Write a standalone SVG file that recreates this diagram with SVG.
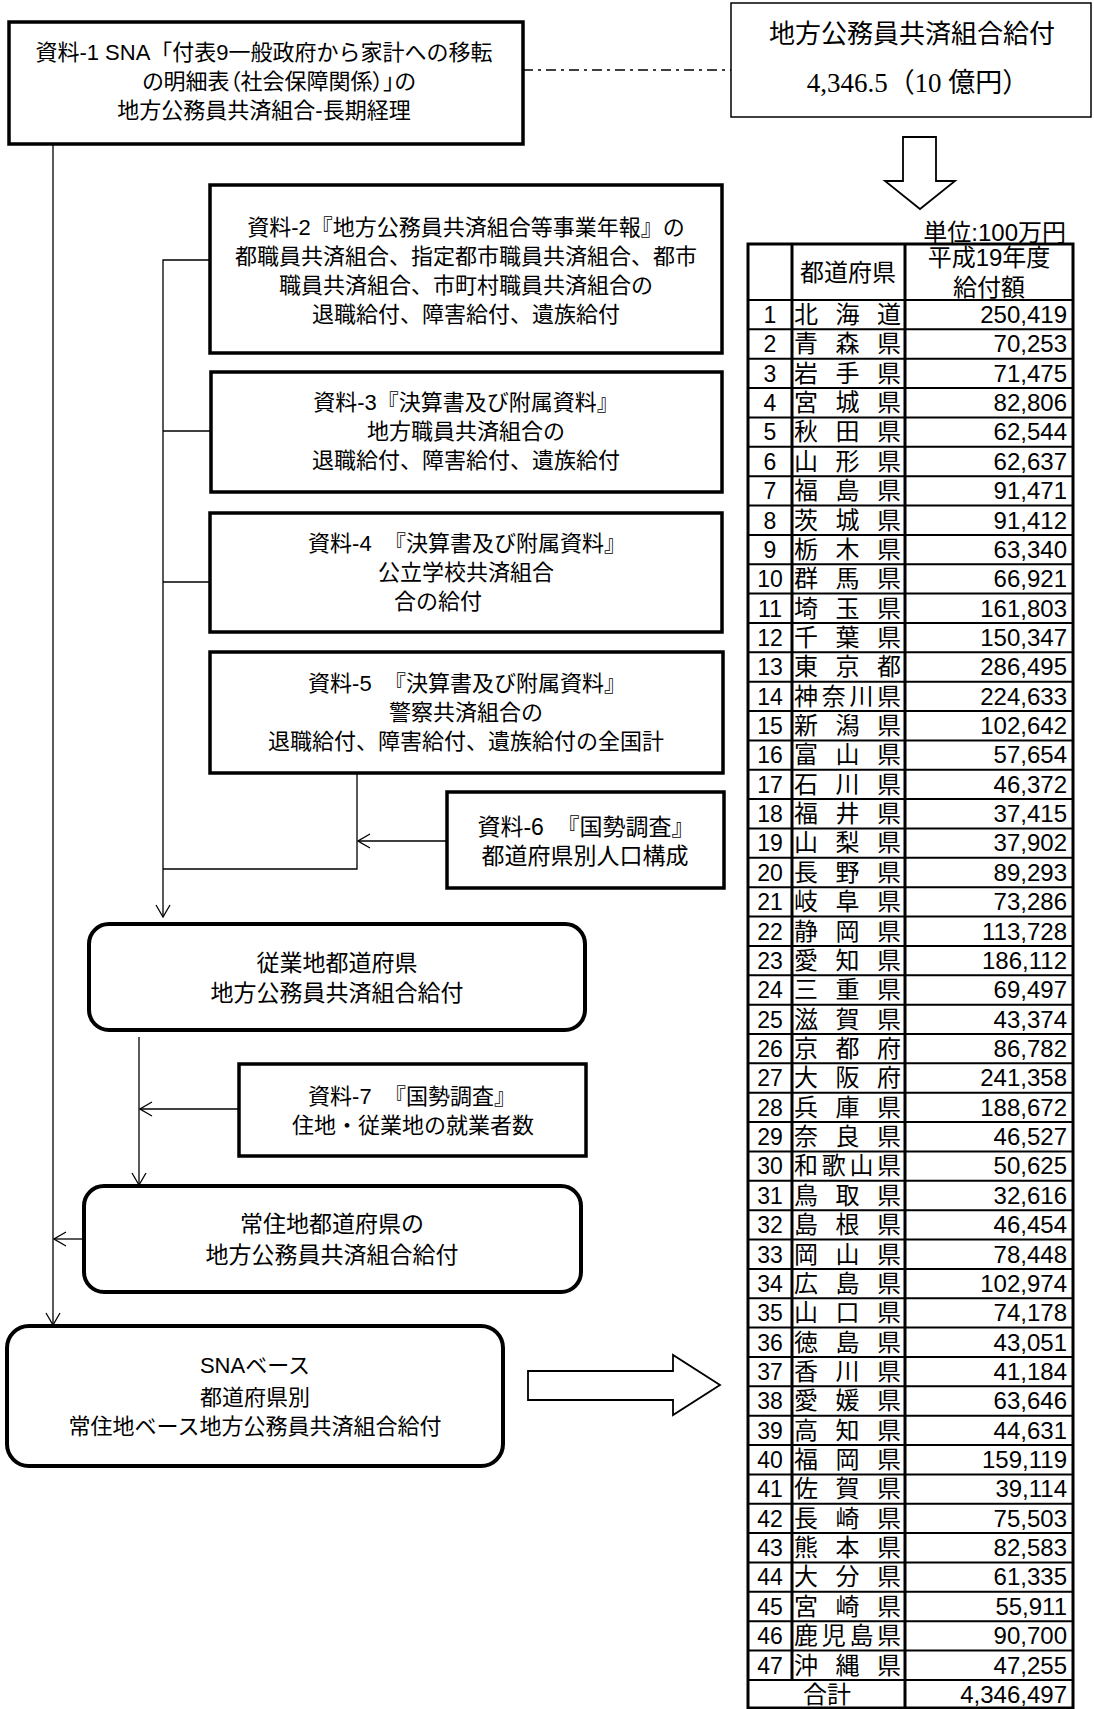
<svg xmlns="http://www.w3.org/2000/svg" width="1094" height="1709" viewBox="0 0 1094 1709">
<style>
.box{fill:#fff;stroke:#000;stroke-width:3.5}
.rbox{fill:#fff;stroke:#000;stroke-width:4}
.thin{fill:#fff;stroke:#000;stroke-width:1.5}
.c{fill:none;stroke:#000;stroke-width:1.3}
.hol{fill:#fff;stroke:#000;stroke-width:1.8;stroke-linejoin:miter}
.t{font-family:"Liberation Sans","Noto Sans CJK JP",sans-serif;font-size:22px;text-anchor:middle;fill:#000}
.t23{font-size:23px}
.palt{font-feature-settings:"palt"}
.tt{font-family:"Liberation Sans","Noto Sans CJK JP",sans-serif;font-size:26px;text-anchor:middle;fill:#000}
.ts{font-family:"Liberation Serif","Noto Sans CJK JP",serif;font-size:27px;text-anchor:middle;fill:#000}
.tb{fill:none;stroke:#000}
.n{font-family:"Liberation Sans","Noto Sans CJK JP",sans-serif;font-size:23px;text-anchor:middle;fill:#000}
.p{font-family:"Noto Sans CJK JP","Liberation Sans",sans-serif;font-size:24px;text-anchor:start;fill:#000;letter-spacing:17.5px}
.p4{letter-spacing:3.7px}
.v{font-family:"Liberation Sans","Noto Sans CJK JP",sans-serif;font-size:24px;text-anchor:end;fill:#000}
.h{font-family:"Liberation Sans","Noto Sans CJK JP",sans-serif;font-size:24px;text-anchor:middle;fill:#000}
</style>
<defs>
<marker id="ah" markerUnits="userSpaceOnUse" markerWidth="14" markerHeight="18" viewBox="0 0 14 18" refX="13" refY="9" orient="auto">
<path d="M1,2 L13,9 L1,16" fill="none" stroke="#000" stroke-width="1.3"/>
</marker>
</defs>
<rect width="1094" height="1709" fill="#fff"/>

<g id="connectors">
<path class="c" d="M523,70 H731" stroke-dasharray="10 5 3 5"/>
<path class="c" d="M53,145 V1325" marker-end="url(#ah)"/>
<path class="c" d="M232,260 H163 V917" marker-end="url(#ah)"/>
<path class="c" d="M163,431 H211"/>
<path class="c" d="M163,582 H210"/>
<path class="c" d="M357,773 V869 H163"/>
<path class="c" d="M446,841 H358" marker-end="url(#ah)"/>
<path class="c" d="M139,1037 V1185" marker-end="url(#ah)"/>
<path class="c" d="M239,1109 H140" marker-end="url(#ah)"/>
<path class="c" d="M84,1239 H54" marker-end="url(#ah)"/>
<polygon class="hol" points="903,137 936,137 936,181 955,181 920,209 885,181 903,181"/>
<polygon class="hol" points="528,1371 673,1371 673,1355 720,1385 673,1415 673,1400 528,1400"/>
</g>

<g id="n1">
<rect class="box" x="9" y="22" width="514" height="122"/>
<text class="t" x="264" y="60">資料-1 SNA「付表9一般政府から家計への移転</text>
<text class="t palt" x="279" y="89">の明細表（社会保障関係）」の</text>
<text class="t" x="264" y="118">地方公務員共済組合-長期経理</text>
</g>

<g id="n0">
<rect class="thin" x="731" y="3" width="360" height="114"/>
<text class="tt" x="912" y="43">地方公務員共済組合給付</text>
<text class="ts" x="918" y="92">4,346.5（10 億円）</text>
</g>

<g id="n2">
<rect class="box" x="210" y="185" width="512" height="168"/>
<text class="t" x="466" y="235">資料-2『地方公務員共済組合等事業年報』の</text>
<text class="t" x="466" y="264">都職員共済組合、指定都市職員共済組合、都市</text>
<text class="t" x="466" y="293">職員共済組合、市町村職員共済組合の</text>
<text class="t" x="466" y="322">退職給付、障害給付、遺族給付</text>
</g>
<g id="n3">
<rect class="box" x="211" y="372" width="511" height="120"/>
<text class="t" x="466" y="410">資料-3『決算書及び附属資料』</text>
<text class="t" x="466" y="439">地方職員共済組合の</text>
<text class="t" x="466" y="468">退職給付、障害給付、遺族給付</text>
</g>
<g id="n4">
<rect class="box" x="210" y="513" width="512" height="119"/>
<text class="t" x="467" y="551">資料-4&#160; 『決算書及び附属資料』</text>
<text class="t" x="466" y="580">公立学校共済組合</text>
<text class="t" x="438" y="609">合の給付</text>
</g>
<g id="n5">
<rect class="box" x="210" y="652" width="513" height="121"/>
<text class="t" x="467" y="691">資料-5&#160; 『決算書及び附属資料』</text>
<text class="t" x="466" y="720">警察共済組合の</text>
<text class="t" x="466" y="749">退職給付、障害給付、遺族給付の全国計</text>
</g>
<g id="n6">
<rect class="box" x="447" y="792" width="277" height="96"/>
<text class="t t23" x="586" y="835">資料-6&#160; 『国勢調査』</text>
<text class="t t23" x="585" y="864">都道府県別人口構成</text>
</g>
<g id="n7">
<rect class="rbox" x="89" y="924" width="496" height="106" rx="20"/>
<text class="t t23" x="337" y="971">従業地都道府県</text>
<text class="t t23" x="337" y="1001">地方公務員共済組合給付</text>
</g>
<g id="n8">
<rect class="box" x="239" y="1064" width="347" height="92"/>
<text class="t" x="412" y="1104">資料-7&#160; 『国勢調査』</text>
<text class="t" x="413" y="1133">住地・従業地の就業者数</text>
</g>
<g id="n9">
<rect class="rbox" x="84" y="1186" width="497" height="106" rx="20"/>
<text class="t t23" x="332" y="1232">常住地都道府県の</text>
<text class="t t23" x="332" y="1263">地方公務員共済組合給付</text>
</g>
<g id="n10">
<rect class="rbox" x="7" y="1326" width="496" height="140" rx="22"/>
<text class="t" x="255" y="1373">SNAベース</text>
<text class="t" x="255" y="1405">都道府県別</text>
<text class="t" x="255" y="1434">常住地ベース地方公務員共済組合給付</text>
</g>

<g id="table">
<text class="v" x="1066" y="241">単位:100万円</text>
<rect class="tb" x="748" y="244" width="325" height="1464" stroke-width="3"/>
<path class="tb" stroke-width="3" d="M792,244 V1680 M905,244 V1708"/>
<path class="tb" stroke-width="2" d="M748,300H1073 M748,329.36H1073 M748,358.72H1073 M748,388.08H1073 M748,417.44H1073 M748,446.8H1073 M748,476.16H1073 M748,505.52H1073 M748,534.88H1073 M748,564.24H1073 M748,593.6H1073 M748,622.96H1073 M748,652.32H1073 M748,681.68H1073 M748,711.04H1073 M748,740.4H1073 M748,769.76H1073 M748,799.12H1073 M748,828.48H1073 M748,857.84H1073 M748,887.2H1073 M748,916.56H1073 M748,945.92H1073 M748,975.28H1073 M748,1004.64H1073 M748,1034H1073 M748,1063.36H1073 M748,1092.72H1073 M748,1122.08H1073 M748,1151.44H1073 M748,1180.8H1073 M748,1210.16H1073 M748,1239.52H1073 M748,1268.88H1073 M748,1298.24H1073 M748,1327.6H1073 M748,1356.96H1073 M748,1386.32H1073 M748,1415.68H1073 M748,1445.04H1073 M748,1474.4H1073 M748,1503.76H1073 M748,1533.12H1073 M748,1562.48H1073 M748,1591.84H1073 M748,1621.2H1073 M748,1650.56H1073 M748,1679.92H1073"/>
<text class="h" x="848" y="281">都道府県</text>
<text class="h" x="989" y="266">平成19年度</text>
<text class="h" x="989" y="296">給付額</text>

<g transform="translate(0,300)"><text class="n" x="770" y="23">1</text><text class="p" x="794" y="23">北海道</text><text class="v" x="1067" y="23">250,419</text></g>
<g transform="translate(0,329.36)"><text class="n" x="770" y="23">2</text><text class="p" x="794" y="23">青森県</text><text class="v" x="1067" y="23">70,253</text></g>
<g transform="translate(0,358.72)"><text class="n" x="770" y="23">3</text><text class="p" x="794" y="23">岩手県</text><text class="v" x="1067" y="23">71,475</text></g>
<g transform="translate(0,388.08)"><text class="n" x="770" y="23">4</text><text class="p" x="794" y="23">宮城県</text><text class="v" x="1067" y="23">82,806</text></g>
<g transform="translate(0,417.44)"><text class="n" x="770" y="23">5</text><text class="p" x="794" y="23">秋田県</text><text class="v" x="1067" y="23">62,544</text></g>
<g transform="translate(0,446.8)"><text class="n" x="770" y="23">6</text><text class="p" x="794" y="23">山形県</text><text class="v" x="1067" y="23">62,637</text></g>
<g transform="translate(0,476.16)"><text class="n" x="770" y="23">7</text><text class="p" x="794" y="23">福島県</text><text class="v" x="1067" y="23">91,471</text></g>
<g transform="translate(0,505.52)"><text class="n" x="770" y="23">8</text><text class="p" x="794" y="23">茨城県</text><text class="v" x="1067" y="23">91,412</text></g>
<g transform="translate(0,534.88)"><text class="n" x="770" y="23">9</text><text class="p" x="794" y="23">栃木県</text><text class="v" x="1067" y="23">63,340</text></g>
<g transform="translate(0,564.24)"><text class="n" x="770" y="23">10</text><text class="p" x="794" y="23">群馬県</text><text class="v" x="1067" y="23">66,921</text></g>
<g transform="translate(0,593.6)"><text class="n" x="770" y="23">11</text><text class="p" x="794" y="23">埼玉県</text><text class="v" x="1067" y="23">161,803</text></g>
<g transform="translate(0,622.96)"><text class="n" x="770" y="23">12</text><text class="p" x="794" y="23">千葉県</text><text class="v" x="1067" y="23">150,347</text></g>
<g transform="translate(0,652.32)"><text class="n" x="770" y="23">13</text><text class="p" x="794" y="23">東京都</text><text class="v" x="1067" y="23">286,495</text></g>
<g transform="translate(0,681.68)"><text class="n" x="770" y="23">14</text><text class="p p4" x="794" y="23">神奈川県</text><text class="v" x="1067" y="23">224,633</text></g>
<g transform="translate(0,711.04)"><text class="n" x="770" y="23">15</text><text class="p" x="794" y="23">新潟県</text><text class="v" x="1067" y="23">102,642</text></g>
<g transform="translate(0,740.4)"><text class="n" x="770" y="23">16</text><text class="p" x="794" y="23">富山県</text><text class="v" x="1067" y="23">57,654</text></g>
<g transform="translate(0,769.76)"><text class="n" x="770" y="23">17</text><text class="p" x="794" y="23">石川県</text><text class="v" x="1067" y="23">46,372</text></g>
<g transform="translate(0,799.12)"><text class="n" x="770" y="23">18</text><text class="p" x="794" y="23">福井県</text><text class="v" x="1067" y="23">37,415</text></g>
<g transform="translate(0,828.48)"><text class="n" x="770" y="23">19</text><text class="p" x="794" y="23">山梨県</text><text class="v" x="1067" y="23">37,902</text></g>
<g transform="translate(0,857.84)"><text class="n" x="770" y="23">20</text><text class="p" x="794" y="23">長野県</text><text class="v" x="1067" y="23">89,293</text></g>
<g transform="translate(0,887.2)"><text class="n" x="770" y="23">21</text><text class="p" x="794" y="23">岐阜県</text><text class="v" x="1067" y="23">73,286</text></g>
<g transform="translate(0,916.56)"><text class="n" x="770" y="23">22</text><text class="p" x="794" y="23">静岡県</text><text class="v" x="1067" y="23">113,728</text></g>
<g transform="translate(0,945.92)"><text class="n" x="770" y="23">23</text><text class="p" x="794" y="23">愛知県</text><text class="v" x="1067" y="23">186,112</text></g>
<g transform="translate(0,975.28)"><text class="n" x="770" y="23">24</text><text class="p" x="794" y="23">三重県</text><text class="v" x="1067" y="23">69,497</text></g>
<g transform="translate(0,1004.64)"><text class="n" x="770" y="23">25</text><text class="p" x="794" y="23">滋賀県</text><text class="v" x="1067" y="23">43,374</text></g>
<g transform="translate(0,1034)"><text class="n" x="770" y="23">26</text><text class="p" x="794" y="23">京都府</text><text class="v" x="1067" y="23">86,782</text></g>
<g transform="translate(0,1063.36)"><text class="n" x="770" y="23">27</text><text class="p" x="794" y="23">大阪府</text><text class="v" x="1067" y="23">241,358</text></g>
<g transform="translate(0,1092.72)"><text class="n" x="770" y="23">28</text><text class="p" x="794" y="23">兵庫県</text><text class="v" x="1067" y="23">188,672</text></g>
<g transform="translate(0,1122.08)"><text class="n" x="770" y="23">29</text><text class="p" x="794" y="23">奈良県</text><text class="v" x="1067" y="23">46,527</text></g>
<g transform="translate(0,1151.44)"><text class="n" x="770" y="23">30</text><text class="p p4" x="794" y="23">和歌山県</text><text class="v" x="1067" y="23">50,625</text></g>
<g transform="translate(0,1180.8)"><text class="n" x="770" y="23">31</text><text class="p" x="794" y="23">鳥取県</text><text class="v" x="1067" y="23">32,616</text></g>
<g transform="translate(0,1210.16)"><text class="n" x="770" y="23">32</text><text class="p" x="794" y="23">島根県</text><text class="v" x="1067" y="23">46,454</text></g>
<g transform="translate(0,1239.52)"><text class="n" x="770" y="23">33</text><text class="p" x="794" y="23">岡山県</text><text class="v" x="1067" y="23">78,448</text></g>
<g transform="translate(0,1268.88)"><text class="n" x="770" y="23">34</text><text class="p" x="794" y="23">広島県</text><text class="v" x="1067" y="23">102,974</text></g>
<g transform="translate(0,1298.24)"><text class="n" x="770" y="23">35</text><text class="p" x="794" y="23">山口県</text><text class="v" x="1067" y="23">74,178</text></g>
<g transform="translate(0,1327.6)"><text class="n" x="770" y="23">36</text><text class="p" x="794" y="23">徳島県</text><text class="v" x="1067" y="23">43,051</text></g>
<g transform="translate(0,1356.96)"><text class="n" x="770" y="23">37</text><text class="p" x="794" y="23">香川県</text><text class="v" x="1067" y="23">41,184</text></g>
<g transform="translate(0,1386.32)"><text class="n" x="770" y="23">38</text><text class="p" x="794" y="23">愛媛県</text><text class="v" x="1067" y="23">63,646</text></g>
<g transform="translate(0,1415.68)"><text class="n" x="770" y="23">39</text><text class="p" x="794" y="23">高知県</text><text class="v" x="1067" y="23">44,631</text></g>
<g transform="translate(0,1445.04)"><text class="n" x="770" y="23">40</text><text class="p" x="794" y="23">福岡県</text><text class="v" x="1067" y="23">159,119</text></g>
<g transform="translate(0,1474.4)"><text class="n" x="770" y="23">41</text><text class="p" x="794" y="23">佐賀県</text><text class="v" x="1067" y="23">39,114</text></g>
<g transform="translate(0,1503.76)"><text class="n" x="770" y="23">42</text><text class="p" x="794" y="23">長崎県</text><text class="v" x="1067" y="23">75,503</text></g>
<g transform="translate(0,1533.12)"><text class="n" x="770" y="23">43</text><text class="p" x="794" y="23">熊本県</text><text class="v" x="1067" y="23">82,583</text></g>
<g transform="translate(0,1562.48)"><text class="n" x="770" y="23">44</text><text class="p" x="794" y="23">大分県</text><text class="v" x="1067" y="23">61,335</text></g>
<g transform="translate(0,1591.84)"><text class="n" x="770" y="23">45</text><text class="p" x="794" y="23">宮崎県</text><text class="v" x="1067" y="23">55,911</text></g>
<g transform="translate(0,1621.2)"><text class="n" x="770" y="23">46</text><text class="p p4" x="794" y="23">鹿児島県</text><text class="v" x="1067" y="23">90,700</text></g>
<g transform="translate(0,1650.56)"><text class="n" x="770" y="23">47</text><text class="p" x="794" y="23">沖縄県</text><text class="v" x="1067" y="23">47,255</text></g>
<g transform="translate(0,1679.92)"><text class="h" x="827" y="23">合計</text><text class="v" x="1067" y="23">4,346,497</text></g>
</g>
</svg>
